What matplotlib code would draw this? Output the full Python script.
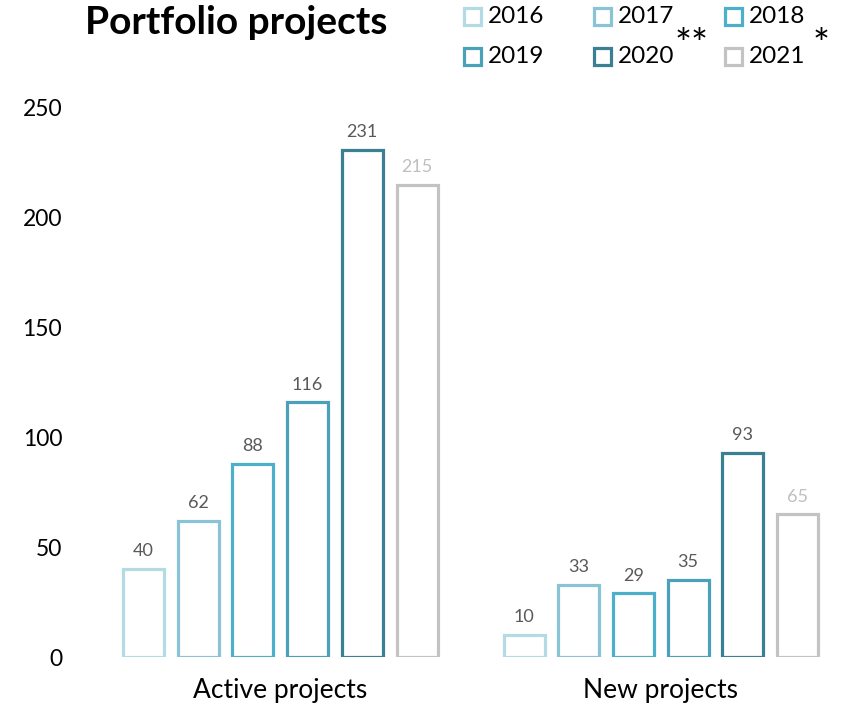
import matplotlib
matplotlib.use("Agg")
import matplotlib.pyplot as plt
from matplotlib.patches import Rectangle
import numpy as np

categories = ["Active projects", "New projects"]
years = ["2016", "2017", "2018", "2019", "2020", "2021"]
values = {
    "2016": [40, 10],
    "2017": [62, 33],
    "2018": [88, 29],
    "2019": [116, 35],
    "2020": [231, 93],
    "2021": [215, 65],
}
colors = ["#b4dae6", "#8ac3d5", "#4cb0cb", "#4aa1b9", "#3b7f92", "#c3c3c3"]
label_colors = ["#595959"] * 5 + ["#bfbfbf"]
yticks = [0, 50, 100, 150, 200, 250]

plt.rcParams['font.family'] = ['Lato', 'DejaVu Sans']

W, H = 844, 712
fig = plt.figure(figsize=(W / 100, H / 100), dpi=100)
x0, x1 = 90, 851
ytop, ybot = 108, 657
ax = fig.add_axes([x0 / W, (H - ybot) / H, (x1 - x0) / W, (ybot - ytop) / H])

step = 54.7 / 380.5
width = 41 / 380.5
xc = np.arange(len(categories))
for i, y in enumerate(years):
    xs = xc + (i - 2.5) * step
    ax.bar(xs, values[y], width=width, facecolor="white",
           edgecolor=colors[i], linewidth=2.3, label=y)
    for xx, v in zip(xs, values[y]):
        ax.annotate(str(v), (xx, v), xytext=(0, 7), textcoords="offset points",
                    ha="center", va="bottom", fontsize=13, color=label_colors[i])

ax.set_xlim(-0.5, 1.5)
ax.set_ylim(0, 250)
ax.set_yticks(yticks)
ax.set_yticklabels([str(t) for t in yticks], fontsize=16.5)
ax.set_xticks(xc)
ax.set_xticklabels(categories, fontsize=19)
ax.tick_params(length=0)
ax.tick_params(axis='x', pad=15)
ax.tick_params(axis='y', pad=20)
for s in ax.spines.values():
    s.set_visible(False)

fig.text(85 / W, 1 - 22 / H, "Portfolio projects", fontsize=28, fontweight="bold",
         ha="left", va="center", color="black")

# legend, laid out in rows of three like the reference
col_x = [463, 593, 724]
row_y = [16.5, 56.5]
sq = 17
for i, (yr, c) in enumerate(zip(years, colors)):
    cx = col_x[i % 3]
    cy = row_y[i // 3]
    fig.patches.append(Rectangle(((cx + 1) / W, 1 - (cy + sq / 2) / H), sq / W, sq / H,
                                 transform=fig.transFigure, facecolor="white",
                                 edgecolor=c, linewidth=2.3))
    fig.text((cx + 25) / W, 1 - cy / H, yr, fontsize=17.5, ha="left", va="center")
fig.text(675 / W, 1 - 47 / H, "**", fontsize=29, ha="left", va="center")
fig.text(813 / W, 1 - 47 / H, "*", fontsize=29, ha="left", va="center")

fig.savefig("out.png", dpi=100)
